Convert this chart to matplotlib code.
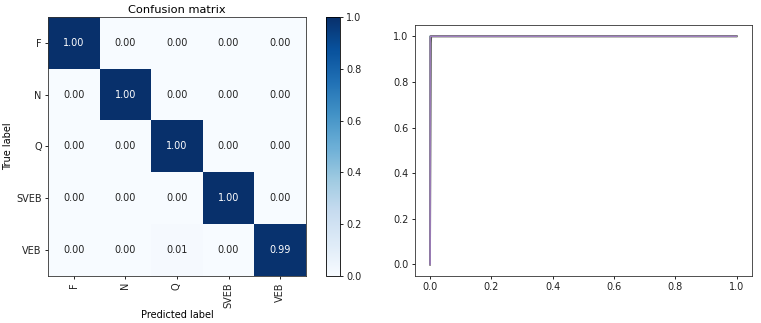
import numpy as np
import matplotlib
matplotlib.use("Agg")
import matplotlib.pyplot as plt

classes = ["F", "N", "Q", "SVEB", "VEB"]
cm = np.array([
    [1.00, 0.00, 0.00, 0.00, 0.00],
    [0.00, 1.00, 0.00, 0.00, 0.00],
    [0.00, 0.00, 1.00, 0.00, 0.00],
    [0.00, 0.00, 0.00, 1.00, 0.00],
    [0.00, 0.00, 0.01, 0.00, 0.99],
])

# ROC curves per class (fpr, tpr)
roc_fpr = {
    "F":    [0.0, 0.0, 0.001, 1.0],
    "N":    [0.0, 0.0, 0.002, 1.0],
    "Q":    [0.0, 0.0, 0.001, 1.0],
    "SVEB": [0.0, 0.003, 0.004, 1.0],
    "VEB":  [0.0, 0.0, 0.001, 1.0],
}
roc_tpr = {
    "F":    [0.0, 0.99, 1.0, 1.0],
    "N":    [0.0, 0.98, 1.0, 1.0],
    "Q":    [0.0, 0.99, 1.0, 1.0],
    "SVEB": [0.0, 0.97, 1.0, 1.0],
    "VEB":  [0.0, 0.995, 1.0, 1.0],
}
roc_colors = ["tab:blue", "tab:orange", "tab:green", "#555555", "#a07fbf"]

fs = 7.0
fig = plt.figure(figsize=(7.61, 3.23), dpi=100)

ax1 = fig.add_axes([0.063, 0.146, 0.339, 0.801])
im = ax1.imshow(cm, interpolation="nearest", cmap=plt.cm.Blues, vmin=0, vmax=1, aspect="auto")
ax1.set_title("Confusion matrix", fontsize=8.2, pad=3)
ticks = np.arange(len(classes))
ax1.set_xticks(ticks)
ax1.set_xticklabels(classes, rotation=90, fontsize=fs)
ax1.set_yticks(ticks)
ax1.set_yticklabels(classes, fontsize=fs)
ax1.set_xlabel("Predicted label", fontsize=fs, labelpad=2)
ax1.set_ylabel("True label", fontsize=fs, labelpad=2)
for i in range(cm.shape[0]):
    for j in range(cm.shape[1]):
        ax1.text(j, i, format(cm[i, j], ".2f"), ha="center", va="center",
                 fontsize=fs, color="white" if cm[i, j] > 0.5 else "#222222")
ax1.tick_params(length=2.5, width=0.6, pad=2, labelcolor="#222222")
for s in ax1.spines.values():
    s.set_linewidth(0.6)
    s.set_color("#333333")

cax = fig.add_axes([0.428, 0.146, 0.0184, 0.801])
cb = fig.colorbar(im, cax=cax)
cb.set_ticks([0.0, 0.2, 0.4, 0.6, 0.8, 1.0])
cb.ax.tick_params(labelsize=fs, length=2.5, width=0.6, pad=2, labelcolor="#222222")
cb.outline.set_linewidth(0.6)

ax2 = fig.add_axes([0.545, 0.146, 0.443, 0.777])
for c, col in zip(classes, roc_colors):
    ax2.plot(roc_fpr[c], roc_tpr[c], color=col, lw=1.2)
ax2.set_xticks([0.0, 0.2, 0.4, 0.6, 0.8, 1.0])
ax2.set_yticks([0.0, 0.2, 0.4, 0.6, 0.8, 1.0])
ax2.tick_params(labelsize=fs, length=2.5, width=0.6, pad=2, labelcolor="#222222")
for s in ax2.spines.values():
    s.set_linewidth(0.6)
    s.set_color("#333333")

fig.savefig("out.png", dpi=100)
